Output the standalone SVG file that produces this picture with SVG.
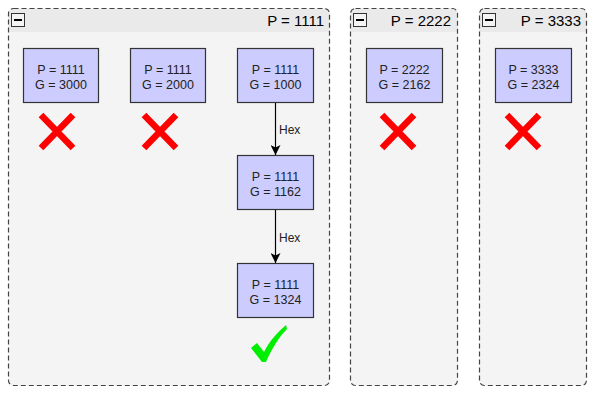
<svg xmlns="http://www.w3.org/2000/svg" width="590" height="404" viewBox="0 0 590 404">
<defs>
<style>
.body{fill:#f4f4f4}
.cont{fill:none;stroke:#444;stroke-width:1.2;stroke-dasharray:5 3}
.hdr{fill:#eaeaea}
.minus{fill:#f4f4f4;stroke:#333;stroke-width:1}
.title{font-family:"Liberation Sans",Arial,sans-serif;font-size:15px;fill:#000;text-anchor:end}
.node{fill:#ccccff;stroke:#333;stroke-width:1.2}
.nt{font-family:"Liberation Sans",Arial,sans-serif;font-size:12.5px;fill:#222;text-anchor:middle}
.lbl{font-family:"Liberation Sans",Arial,sans-serif;font-size:12px;fill:#222}
.edge{stroke:#000;stroke-width:1.2;fill:none}
.x{stroke:#ff0000;stroke-width:6.5;stroke-linecap:butt}
</style>
<marker id="ah" viewBox="0 0 10 10" refX="10" refY="5" markerWidth="10" markerHeight="10" markerUnits="userSpaceOnUse" orient="auto">
<path d="M0,0 L10,5 L0,10 L2.5,5 Z" fill="#000"/>
</marker>
</defs>
<g id="container1">
<rect class="body" x="8.5" y="8.5" width="321" height="377" rx="5"/>
<path class="hdr" d="M13.5,8.5 H324.5 a5,5 0 0 1 5,5 V32 H8.5 V13.5 a5,5 0 0 1 5,-5 Z"/>
<rect class="cont" x="8.5" y="8.5" width="321" height="377" rx="5"/>
<rect class="minus" x="11.5" y="13.5" width="13" height="13"/>
<line x1="14" y1="20" x2="22" y2="20" stroke="#000" stroke-width="2"/>
<text class="title" x="324" y="26">P = 1111</text>
</g>
<g id="container2">
<rect class="body" x="350.5" y="8.5" width="107" height="377" rx="5"/>
<path class="hdr" d="M355.5,8.5 H452.5 a5,5 0 0 1 5,5 V32 H350.5 V13.5 a5,5 0 0 1 5,-5 Z"/>
<rect class="cont" x="350.5" y="8.5" width="107" height="377" rx="5"/>
<rect class="minus" x="353.5" y="13.5" width="13" height="13"/>
<line x1="356" y1="20" x2="364" y2="20" stroke="#000" stroke-width="2"/>
<text class="title" x="451" y="26">P = 2222</text>
</g>
<g id="container3">
<rect class="body" x="479.5" y="8.5" width="107" height="377" rx="5"/>
<path class="hdr" d="M484.5,8.5 H581.5 a5,5 0 0 1 5,5 V32 H479.5 V13.5 a5,5 0 0 1 5,-5 Z"/>
<rect class="cont" x="479.5" y="8.5" width="107" height="377" rx="5"/>
<rect class="minus" x="482.5" y="13.5" width="13" height="13"/>
<line x1="485" y1="20" x2="493" y2="20" stroke="#000" stroke-width="2"/>
<text class="title" x="581" y="26">P = 3333</text>
</g>
<g id="n1"><rect class="node" x="23.5" y="48.5" width="75" height="54"/><text class="nt" x="61" y="73.5">P = 1111</text><text class="nt" x="61" y="89">G = 3000</text></g>
<g id="n2"><rect class="node" x="130.5" y="48.5" width="75" height="54"/><text class="nt" x="168" y="73.5">P = 1111</text><text class="nt" x="168" y="89">G = 2000</text></g>
<g id="n3"><rect class="node" x="237.5" y="48.5" width="76" height="54"/><text class="nt" x="275.5" y="73.5">P = 1111</text><text class="nt" x="275.5" y="89">G = 1000</text></g>
<g id="n4"><rect class="node" x="237.5" y="155.5" width="76" height="54"/><text class="nt" x="275.5" y="180.5">P = 1111</text><text class="nt" x="275.5" y="196">G = 1162</text></g>
<g id="n5"><rect class="node" x="237.5" y="263.5" width="76" height="54"/><text class="nt" x="275.5" y="288.5">P = 1111</text><text class="nt" x="275.5" y="304">G = 1324</text></g>
<g id="n6"><rect class="node" x="366.5" y="48.5" width="76" height="54"/><text class="nt" x="404.5" y="73.5">P = 2222</text><text class="nt" x="404.5" y="89">G = 2162</text></g>
<g id="n7"><rect class="node" x="495.5" y="48.5" width="76" height="54"/><text class="nt" x="533.5" y="73.5">P = 3333</text><text class="nt" x="533.5" y="89">G = 2324</text></g>
<g id="edges">
<line class="edge" x1="275.5" y1="103" x2="275.5" y2="155" marker-end="url(#ah)"/>
<text class="lbl" x="279" y="134">Hex</text>
<line class="edge" x1="275.5" y1="210" x2="275.5" y2="263" marker-end="url(#ah)"/>
<text class="lbl" x="279" y="241.5">Hex</text>
</g>
<g id="marks">
<path class="x" d="M41,115 L73,148 M73,115 L41,148"/>
<path class="x" d="M144,115 L176,148 M176,115 L144,148"/>
<path class="x" d="M382,115 L414,148 M414,115 L382,148"/>
<path class="x" d="M507,115 L539,148 M539,115 L507,148"/>
<path d="M251,348 L257,343 L264,352 C270,340 278,332 286,325 L287,329 C279,337 271,350 266,362 L262,362 Z" fill="#00ee00"/>
</g>
</svg>
